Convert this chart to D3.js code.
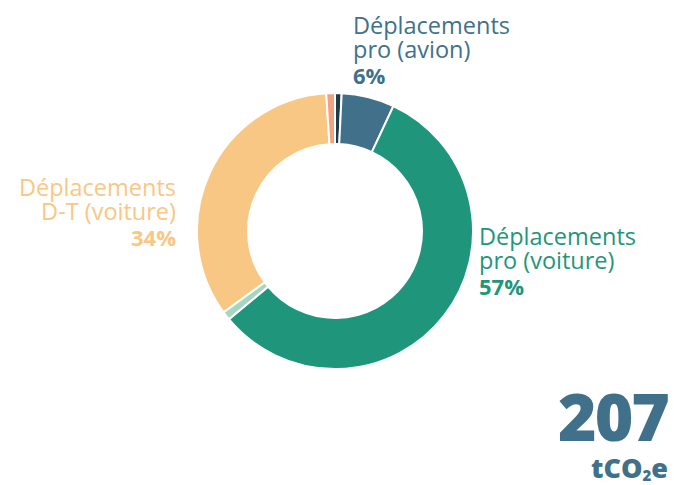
<!DOCTYPE html>
<html>
<head>
<meta charset="utf-8">
<script src="https://cdn.jsdelivr.net/npm/d3@7"></script>
<style>
  body { margin: 0; background: #fff; }
  text { font-family: "Open Sans", sans-serif; }
</style>
</head>
<body>
<svg></svg>
<script>
// postes d'emissions (tCO2e), dans l'ordre horaire depuis midi
let categories = ["Autre", "Déplacements pro (avion)", "Déplacements pro (voiture)", "Autre 2", "Déplacements D-T (voiture)", "Autre 3"]
let values = [1.6, 12.8, 118, 2.1, 70.4, 2.1]
let colors = ["#1d3a48", "#41718a", "#1f967b", "#a5d6c1", "#f9c784", "#f4a182"]
let total = "207"

let width = 674
let height = 485
let cx = 335, cy = 231
let outerR = 138, innerR = 87

let svg = d3.select('svg').attr("width", width).attr("height", height)

let pie = d3.pie().sort(null).value(d => d)
let arc = d3.arc().innerRadius(innerR).outerRadius(outerR)

let g = svg.append("g").attr("transform", "translate(" + cx + "," + cy + ")")

g.selectAll("path")
    .data(pie(values))
    .enter()
    .append("path")
    .attr("d", arc)
    .attr("fill", (d, i) => colors[i])
    .attr("stroke", "#fff")
    .attr("stroke-width", 2)

let sum = d3.sum(values)
let pct = i => Math.round(values[i] / sum * 100) + "%"

// labels
let labels = [
    {i: 1, lines: ["Déplacements", "pro (avion)"], x: 353, y: 34, anchor: "start"},
    {i: 2, lines: ["Déplacements", "pro (voiture)"], x: 479, y: 245, anchor: "start"},
    {i: 4, lines: ["Déplacements", "D-T (voiture)"], x: 176, y: 196, anchor: "end"}
]

labels.forEach(l => {
    let t = svg.append("text")
        .attr("x", l.x).attr("y", l.y)
        .attr("text-anchor", l.anchor)
        .attr("fill", colors[l.i])
        .style("font-size", "23.5px")
    l.lines.forEach((s, k) => {
        t.append("tspan").attr("x", l.x).attr("dy", k == 0 ? 0 : 23.5).text(s)
    })
    t.append("tspan").attr("x", l.x).attr("dy", 26)
        .style("font-weight", 700).style("font-size", "22px").text(pct(l.i))
})

svg.append("text")
    .attr("x", 668).attr("y", 441)
    .attr("text-anchor", "end")
    .attr("fill", "#41718a")
    .style("font-size", "66px")
    .style("font-weight", 800)
    .style("letter-spacing", "-2px")
    .text(total)

let unit = svg.append("text")
    .attr("x", 668).attr("y", 478)
    .attr("text-anchor", "end")
    .attr("fill", "#41718a")
    .style("font-size", "27px")
    .style("font-weight", 800)
unit.append("tspan").text("tCO")
unit.append("tspan").attr("dy", 3).style("font-size", "15px").text("2")
unit.append("tspan").attr("dy", -3).text("e")
</script>
</body>
</html>
